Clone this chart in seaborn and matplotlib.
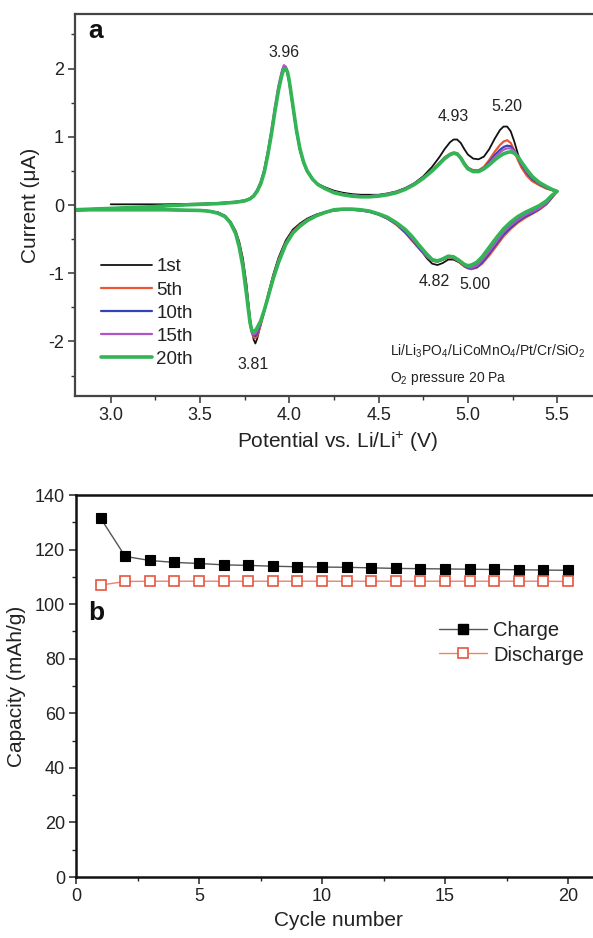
import numpy as np
import pandas as pd
import matplotlib
matplotlib.use("Agg")
import matplotlib.pyplot as plt
from matplotlib.ticker import MultipleLocator
from matplotlib.lines import Line2D
import seaborn as sns

# ---------------- data: cyclic voltammetry (panel a) ----------------
VA = [2.80, 2.90, 3.00, 3.10, 3.20, 3.30, 3.40, 3.50, 3.60, 3.70,
      3.75, 3.78, 3.80, 3.82, 3.84, 3.86, 3.88, 3.90, 3.92, 3.94,
      3.96, 3.97, 3.98, 3.99, 4.00, 4.02, 4.04, 4.06, 4.08, 4.10,
      4.13, 4.16, 4.20, 4.25, 4.30, 4.35, 4.40, 4.45, 4.50, 4.55,
      4.60, 4.65, 4.70, 4.75, 4.80, 4.84, 4.87, 4.90, 4.92, 4.94,
      4.96, 4.98, 5.00, 5.03, 5.06, 5.09, 5.12, 5.15, 5.18, 5.20,
      5.22, 5.24, 5.26, 5.28, 5.30, 5.33, 5.36, 5.40, 5.44, 5.47, 5.50]

I1_anodic = [np.nan, np.nan, 0.01, 0.01, 0.01, 0.01, 0.015, 0.02, 0.03, 0.05,
             0.07, 0.10, 0.14, 0.22, 0.34, 0.52, 0.78, 1.08, 1.42, 1.72,
             1.95, 2.02, 2.03, 1.96, 1.82, 1.45, 1.08, 0.80, 0.61, 0.49,
             0.38, 0.31, 0.26, 0.21, 0.18, 0.16, 0.15, 0.15, 0.15, 0.17,
             0.20, 0.25, 0.32, 0.42, 0.56, 0.70, 0.82, 0.92, 0.96, 0.96,
             0.91, 0.82, 0.74, 0.68, 0.67, 0.71, 0.82, 0.97, 1.10, 1.15,
             1.15, 1.08, 0.93, 0.75, 0.60, 0.46, 0.37, 0.30, 0.25, 0.22, 0.20]
I5_anodic = [-0.07, -0.06, -0.05, -0.04, -0.03, -0.015, 0.00, 0.01, 0.02, 0.04,
             0.06, 0.09, 0.13, 0.21, 0.32, 0.50, 0.76, 1.06, 1.40, 1.71,
             1.95, 2.02, 2.02, 1.95, 1.81, 1.45, 1.09, 0.81, 0.62, 0.50,
             0.38, 0.30, 0.24, 0.19, 0.16, 0.14, 0.13, 0.13, 0.14, 0.16,
             0.19, 0.24, 0.31, 0.40, 0.51, 0.62, 0.70, 0.75, 0.77, 0.76,
             0.70, 0.62, 0.55, 0.51, 0.51, 0.56, 0.66, 0.78, 0.88, 0.93,
             0.95, 0.91, 0.80, 0.66, 0.55, 0.43, 0.35, 0.29, 0.24, 0.22, 0.20]
I10_anodic = [-0.07, -0.06, -0.05, -0.04, -0.03, -0.015, 0.00, 0.01, 0.02, 0.04,
              0.06, 0.09, 0.13, 0.21, 0.32, 0.49, 0.75, 1.05, 1.40, 1.71,
              1.96, 2.03, 2.02, 1.94, 1.80, 1.45, 1.09, 0.81, 0.62, 0.50,
              0.38, 0.30, 0.24, 0.19, 0.16, 0.14, 0.13, 0.13, 0.14, 0.16,
              0.19, 0.24, 0.31, 0.40, 0.50, 0.61, 0.69, 0.74, 0.76, 0.75,
              0.69, 0.61, 0.54, 0.50, 0.50, 0.54, 0.63, 0.73, 0.81, 0.85,
              0.87, 0.86, 0.80, 0.70, 0.59, 0.47, 0.38, 0.31, 0.25, 0.22, 0.20]
I15_anodic = [-0.07, -0.06, -0.05, -0.04, -0.03, -0.015, 0.00, 0.01, 0.02, 0.04,
              0.06, 0.09, 0.14, 0.22, 0.34, 0.52, 0.79, 1.10, 1.45, 1.76,
              1.98, 2.05, 2.02, 1.93, 1.79, 1.44, 1.08, 0.81, 0.62, 0.50,
              0.38, 0.30, 0.24, 0.19, 0.16, 0.14, 0.13, 0.13, 0.14, 0.16,
              0.19, 0.24, 0.31, 0.40, 0.50, 0.60, 0.68, 0.73, 0.75, 0.74,
              0.68, 0.60, 0.53, 0.49, 0.49, 0.53, 0.61, 0.70, 0.77, 0.81,
              0.83, 0.83, 0.79, 0.71, 0.61, 0.49, 0.40, 0.32, 0.26, 0.22, 0.20]
I20_anodic = [-0.07, -0.06, -0.05, -0.04, -0.03, -0.015, 0.00, 0.01, 0.02, 0.04,
              0.06, 0.09, 0.13, 0.20, 0.31, 0.48, 0.74, 1.04, 1.38, 1.69,
              1.92, 1.99, 2.00, 1.95, 1.82, 1.46, 1.10, 0.82, 0.63, 0.50,
              0.38, 0.30, 0.24, 0.18, 0.15, 0.13, 0.12, 0.12, 0.13, 0.15,
              0.18, 0.23, 0.30, 0.39, 0.50, 0.60, 0.68, 0.74, 0.76, 0.75,
              0.69, 0.60, 0.53, 0.49, 0.49, 0.53, 0.59, 0.66, 0.72, 0.75,
              0.77, 0.78, 0.76, 0.71, 0.63, 0.52, 0.42, 0.33, 0.27, 0.23, 0.20]

VC = [5.50, 5.47, 5.44, 5.40, 5.36, 5.32, 5.28, 5.24, 5.20, 5.16,
      5.12, 5.08, 5.05, 5.02, 5.00, 4.98, 4.95, 4.92, 4.89, 4.86,
      4.83, 4.80, 4.77, 4.73, 4.69, 4.65, 4.60, 4.55, 4.50, 4.45,
      4.40, 4.35, 4.30, 4.25, 4.20, 4.15, 4.10, 4.06, 4.02, 3.98,
      3.94, 3.91, 3.88, 3.86, 3.84, 3.82, 3.81, 3.80, 3.79, 3.78,
      3.76, 3.74, 3.72, 3.70, 3.67, 3.64, 3.60, 3.55, 3.50, 3.40,
      3.30, 3.20, 3.10, 3.00, 2.90, 2.80]

I1_cathodic = [0.20, 0.12, 0.03, -0.04, -0.09, -0.14, -0.20, -0.28, -0.38, -0.52,
               -0.66, -0.80, -0.88, -0.92, -0.92, -0.90, -0.84, -0.80, -0.80, -0.85,
               -0.88, -0.86, -0.78, -0.64, -0.50, -0.38, -0.27, -0.19, -0.13, -0.09,
               -0.07, -0.06, -0.06, -0.07, -0.10, -0.14, -0.20, -0.27, -0.36, -0.52,
               -0.77, -1.02, -1.32, -1.55, -1.75, -1.96, -2.03, -1.97, -1.84, -1.65,
               -1.15, -0.78, -0.54, -0.38, -0.24, -0.16, -0.11, -0.09, -0.08, -0.07,
               -0.07, -0.065, -0.06, -0.06, -0.065, -0.07]
I5_cathodic = [0.20, 0.10, 0.01, -0.07, -0.13, -0.19, -0.26, -0.35, -0.46, -0.60,
               -0.74, -0.86, -0.92, -0.94, -0.93, -0.90, -0.83, -0.78, -0.77, -0.80,
               -0.83, -0.82, -0.76, -0.65, -0.53, -0.41, -0.29, -0.20, -0.14, -0.10,
               -0.08, -0.07, -0.07, -0.08, -0.11, -0.15, -0.22, -0.29, -0.39, -0.55,
               -0.80, -1.05, -1.35, -1.56, -1.76, -1.92, -1.95, -1.94, -1.86, -1.70,
               -1.22, -0.84, -0.58, -0.40, -0.25, -0.16, -0.11, -0.09, -0.08, -0.075,
               -0.07, -0.07, -0.07, -0.07, -0.07, -0.07]
I10_cathodic = [0.20, 0.11, 0.02, -0.06, -0.12, -0.17, -0.24, -0.33, -0.43, -0.57,
                -0.71, -0.84, -0.91, -0.93, -0.92, -0.89, -0.82, -0.77, -0.76, -0.80,
                -0.83, -0.81, -0.75, -0.64, -0.52, -0.40, -0.28, -0.20, -0.14, -0.10,
                -0.08, -0.07, -0.07, -0.08, -0.11, -0.15, -0.22, -0.30, -0.40, -0.56,
                -0.81, -1.06, -1.35, -1.55, -1.73, -1.88, -1.92, -1.91, -1.86, -1.71,
                -1.26, -0.87, -0.60, -0.41, -0.25, -0.16, -0.11, -0.09, -0.08, -0.075,
                -0.07, -0.07, -0.07, -0.07, -0.07, -0.07]
I15_cathodic = [0.20, 0.12, 0.03, -0.05, -0.10, -0.15, -0.22, -0.30, -0.40, -0.54,
                -0.68, -0.81, -0.89, -0.92, -0.91, -0.88, -0.82, -0.77, -0.76, -0.79,
                -0.82, -0.81, -0.74, -0.62, -0.50, -0.38, -0.27, -0.19, -0.13, -0.09,
                -0.07, -0.06, -0.06, -0.07, -0.11, -0.16, -0.22, -0.30, -0.40, -0.57,
                -0.82, -1.07, -1.36, -1.55, -1.72, -1.85, -1.89, -1.90, -1.87, -1.73,
                -1.28, -0.88, -0.61, -0.42, -0.26, -0.17, -0.12, -0.09, -0.08, -0.075,
                -0.07, -0.07, -0.07, -0.07, -0.07, -0.07]
I20_cathodic = [0.20, 0.14, 0.06, -0.01, -0.06, -0.11, -0.17, -0.25, -0.35, -0.48,
                -0.62, -0.76, -0.84, -0.88, -0.89, -0.87, -0.81, -0.76, -0.75, -0.79,
                -0.82, -0.80, -0.72, -0.60, -0.47, -0.36, -0.26, -0.18, -0.13, -0.09,
                -0.07, -0.06, -0.06, -0.07, -0.11, -0.16, -0.23, -0.31, -0.41, -0.58,
                -0.84, -1.08, -1.36, -1.54, -1.70, -1.80, -1.84, -1.86, -1.84, -1.72,
                -1.30, -0.90, -0.62, -0.42, -0.26, -0.17, -0.12, -0.09, -0.08, -0.075,
                -0.07, -0.07, -0.07, -0.07, -0.07, -0.07]

cycle_labels = ["1st", "5th", "10th", "15th", "20th"]
cycle_colors = ["#111111", "#ee5533", "#3344bb", "#b055c8", "#33b455"]
cycle_widths = [1.3, 1.6, 1.6, 1.6, 2.6]
anodic = [I1_anodic, I5_anodic, I10_anodic, I15_anodic, I20_anodic]
cathodic = [I1_cathodic, I5_cathodic, I10_cathodic, I15_cathodic, I20_cathodic]

peak_labels = ["3.96", "4.93", "5.20", "3.81", "4.82", "5.00"]
peak_x = [3.97, 4.92, 5.22, 3.80, 4.81, 5.04]
peak_y = [2.24, 1.30, 1.45, -2.34, -1.12, -1.17]

# ---------------- data: capacity vs cycle (panel b) ----------------
cycle_number = list(range(1, 21))
charge = [131.5, 117.5, 116.0, 115.3, 114.9, 114.4, 114.2, 113.9, 113.7, 113.6,
          113.5, 113.3, 113.1, 113.0, 112.9, 112.8, 112.7, 112.6, 112.5, 112.4]
discharge = [107.0, 108.3, 108.4, 108.4, 108.4, 108.4, 108.4, 108.4, 108.4, 108.4,
             108.4, 108.4, 108.4, 108.4, 108.4, 108.4, 108.4, 108.4, 108.4, 108.3]

# ---------------- style ----------------
sns.set_theme(style="ticks")
plt.rcParams["font.family"] = ["Liberation Sans", "DejaVu Sans"]
plt.rcParams["mathtext.fontset"] = "custom"
plt.rcParams["mathtext.rm"] = "Liberation Sans"
plt.rcParams["mathtext.it"] = "Liberation Sans:italic"
plt.rcParams["mathtext.default"] = "regular"
plt.rcParams["axes.unicode_minus"] = False

W, H = 593, 938
fig = plt.figure(figsize=(W / 100, H / 100), dpi=100)

def px_axes(left, top, right, bottom):
    return fig.add_axes([left / W, 1 - bottom / H, (right - left) / W, (bottom - top) / H])

tick_fs = 13
lab_fs = 15
txt_color = "#222222"

# ================= panel a =================
ax = px_axes(75, 14, 600, 396)
for i in range(5):
    va = VA if i > 0 else VA[2:]
    ia = anodic[i] if i > 0 else anodic[i][2:]
    df = pd.DataFrame({"V": list(va) + VC, "I": list(ia) + cathodic[i]})
    sns.lineplot(data=df, x="V", y="I", sort=False, estimator=None, ax=ax,
                 color=cycle_colors[i], linewidth=cycle_widths[i], label=cycle_labels[i])

ax.set_xlim(2.8, 5.74)
ax.set_ylim(-2.8, 2.8)
ax.xaxis.set_major_locator(MultipleLocator(0.5))
ax.xaxis.set_minor_locator(MultipleLocator(0.25))
ax.yaxis.set_major_locator(MultipleLocator(1))
ax.yaxis.set_minor_locator(MultipleLocator(0.5))
ax.xaxis.set_major_formatter(matplotlib.ticker.FormatStrFormatter("%.1f"))
ax.tick_params(which="major", length=5, width=1.1, labelsize=tick_fs, colors="#333333",
               labelcolor=txt_color, direction="out", pad=3)
ax.tick_params(which="minor", length=3, width=1.0, colors="#333333", direction="out")
for s in ["left", "top", "bottom"]:
    ax.spines[s].set_color("#444444")
    ax.spines[s].set_linewidth(1.6)
ax.spines["right"].set_visible(False)
ax.set_xlabel("Potential vs. Li/Li$^{+}$ (V)", fontsize=lab_fs, color=txt_color, labelpad=4)
ax.set_ylabel("Current (\u03bcA)", fontsize=lab_fs, color=txt_color, labelpad=6)

ax.text(0.025, 0.955, "a", transform=ax.transAxes, fontsize=19, fontweight="bold",
        ha="left", va="center", color="#111111")
for lab, x, y in zip(peak_labels, peak_x, peak_y):
    ax.text(x, y, lab, fontsize=11.5, ha="center", va="center", color=txt_color)
ax.text(0.60, 0.118, "Li/Li$_3$PO$_4$/LiCoMnO$_4$/Pt/Cr/SiO$_2$", transform=ax.transAxes,
        fontsize=10, ha="left", va="center", color=txt_color)
ax.text(0.60, 0.045, "O$_2$ pressure 20 Pa", transform=ax.transAxes,
        fontsize=10, ha="left", va="center", color=txt_color)

leg = ax.legend(loc="upper left", bbox_to_anchor=(0.035, 0.38), frameon=False,
                fontsize=13.5, handlelength=2.7, handletextpad=0.25, labelspacing=0.32,
                borderaxespad=0)
for t in leg.get_texts():
    t.set_color(txt_color)

# ================= panel b =================
bx = px_axes(76, 495, 600, 877)
dfb = pd.DataFrame({"cycle": cycle_number, "charge": charge, "discharge": discharge})
sns.lineplot(data=dfb, x="cycle", y="charge", ax=bx, color="#555555", linewidth=1.0,
             marker="s", markersize=6.5, markerfacecolor="black", markeredgecolor="black",
             markeredgewidth=0.8)
sns.lineplot(data=dfb, x="cycle", y="discharge", ax=bx, color="#f08070", linewidth=1.0,
             marker="s", markersize=6.5, markerfacecolor="white", markeredgecolor="#e8553f",
             markeredgewidth=1.2)
bx.set_xlim(0, 21.3)
bx.set_ylim(0, 140)
bx.xaxis.set_major_locator(MultipleLocator(5))
bx.xaxis.set_minor_locator(MultipleLocator(2.5))
bx.yaxis.set_major_locator(MultipleLocator(20))
bx.yaxis.set_minor_locator(MultipleLocator(10))
bx.tick_params(which="major", length=5, width=1.1, labelsize=tick_fs, colors="#222222",
               labelcolor=txt_color, direction="out", pad=3)
bx.tick_params(which="minor", length=3, width=1.0, colors="#222222", direction="out")
for s in ["left", "top", "bottom"]:
    bx.spines[s].set_color("#111111")
    bx.spines[s].set_linewidth(1.8)
bx.spines["right"].set_visible(False)
bx.set_xlabel("Cycle number", fontsize=lab_fs, color=txt_color, labelpad=4)
bx.set_ylabel("Capacity (mAh/g)", fontsize=lab_fs, color=txt_color, labelpad=6)
bx.text(0.023, 0.69, "b", transform=bx.transAxes, fontsize=19, fontweight="bold",
        ha="left", va="center", color="#111111")

handles = [
    Line2D([], [], color="#555555", linewidth=1.0, marker="s", markersize=6.5,
           markerfacecolor="black", markeredgecolor="black"),
    Line2D([], [], color="#f08070", linewidth=1.0, marker="s", markersize=6.5,
           markerfacecolor="white", markeredgecolor="#e8553f", markeredgewidth=1.2),
]
legb = bx.legend(handles, ["Charge", "Discharge"], loc="upper right",
                 bbox_to_anchor=(0.985, 0.69), frameon=False, fontsize=14.5,
                 handlelength=2.4, handletextpad=0.3, labelspacing=0.25, borderaxespad=0)
for t in legb.get_texts():
    t.set_color(txt_color)

fig.savefig("out.png", dpi=100)
